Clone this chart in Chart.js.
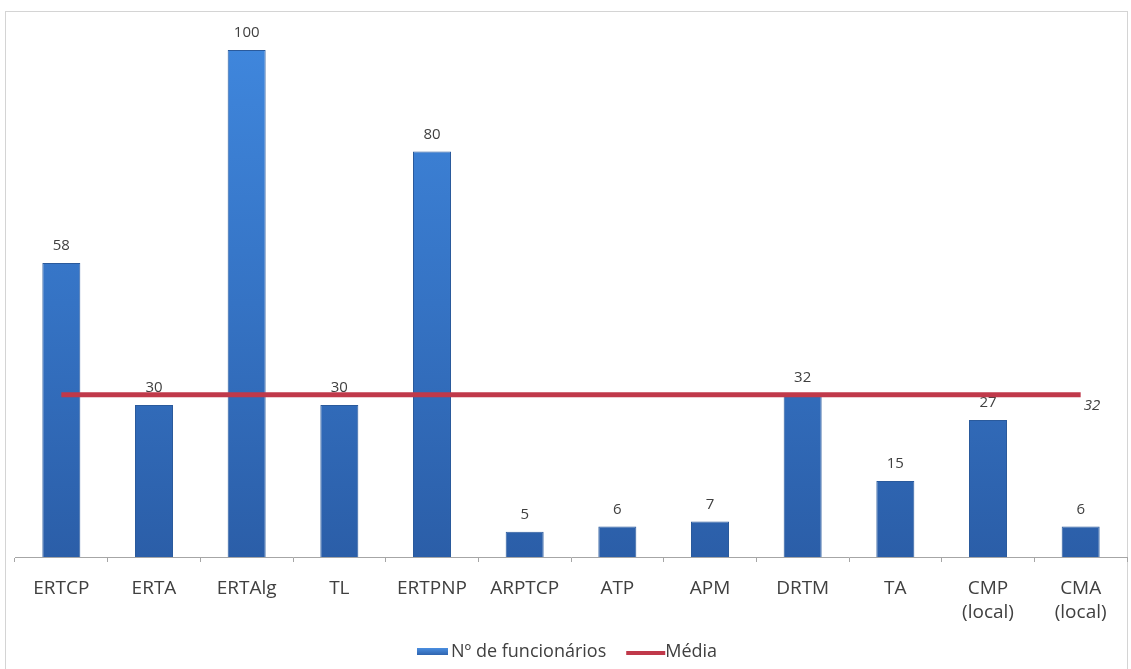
<!DOCTYPE html>
<html>
<head>
<meta charset="utf-8">
<script src="https://cdn.jsdelivr.net/npm/chart.js@4/dist/chart.umd.min.js"></script>
<style>
  html, body { margin: 0; padding: 0; background: #ffffff; }
  #wrap { position: relative; width: 1131px; height: 669px; }
</style>
</head>
<body>
<div id="wrap"><canvas id="c" width="1131" height="669"></canvas></div>
<script>
// Categories (services) and values
const categories = [
  'ERTCP', 'ERTA', 'ERTAlg', 'TL', 'ERTPNP', 'ARPTCP',
  'ATP', 'APM', 'DRTM', 'TA', ['CMP', '(local)'], ['CMA', '(local)']
];
const funcionarios = [58, 30, 100, 30, 80, 5, 6, 7, 32, 15, 27, 6];
const mediaValor = 32;
const media = categories.map(() => mediaValor);

const seriesNames = ['Nº de funcionários', 'Média'];

const FONT = '"Open Sans", "DejaVu Sans", sans-serif';
const TEXT = '#404040';
const BAR_EDGE = '#2a5a9c';
const LINE_RED = '#c0394a';

// Bar fill: cylinder-like gradient, light at the top, darker at the base
function barFill(ctx) {
  const chart = ctx.chart;
  const area = chart.chartArea;
  if (!area) return '#3a78c8';
  const g = chart.ctx.createLinearGradient(0, area.top, 0, area.bottom);
  g.addColorStop(0, '#3f86dc');
  g.addColorStop(0.5, '#3573c4');
  g.addColorStop(1, '#2b5ea8');
  return g;
}

// Frame around the whole chart
const framePlugin = {
  id: 'frame',
  beforeDraw(chart) {
    const c = chart.ctx;
    c.save();
    c.fillStyle = '#ffffff';
    c.fillRect(0, 0, chart.width, chart.height);
    c.strokeStyle = '#d4d4d4';
    c.lineWidth = 1;
    c.strokeRect(5.5, 11.5, 1122, 670);
    c.restore();
  }
};

// Value labels above each bar and the average label at the end of the line
const labelsPlugin = {
  id: 'valueLabels',
  afterDatasetDraw(chart, args) {
    const c = chart.ctx;
    if (args.index === 0) {
      const meta = chart.getDatasetMeta(0);
      c.save();
      c.font = '15px ' + FONT;
      c.fillStyle = TEXT;
      c.textAlign = 'center';
      c.textBaseline = 'middle';
      meta.data.forEach((bar, i) => {
        c.fillText(String(funcionarios[i]), bar.x, bar.y - 17);
      });
      c.restore();
    }
    if (args.index === 1) {
      const meta = chart.getDatasetMeta(1);
      const last = meta.data[meta.data.length - 1];
      c.save();
      c.font = 'italic 15px ' + FONT;
      c.fillStyle = TEXT;
      c.textAlign = 'left';
      c.textBaseline = 'middle';
      c.fillText(String(media[media.length - 1]), last.x + 3, last.y + 11);
      c.restore();
    }
  }
};

// Legend drawn at the bottom
const legendPlugin = {
  id: 'bottomLegend',
  afterDraw(chart) {
    const c = chart.ctx;
    c.save();
    c.font = '18px ' + FONT;
    c.textBaseline = 'middle';
    const y = 652;
    const w0 = c.measureText(seriesNames[0]).width;
    let x = 417;
    // bar swatch
    const g = c.createLinearGradient(0, y - 4, 0, y + 4);
    g.addColorStop(0, '#4a8ee0');
    g.addColorStop(1, '#2b5ea8');
    c.fillStyle = g;
    c.fillRect(x, y - 4, 31, 7);
    x += 34;
    c.fillStyle = TEXT;
    c.fillText(seriesNames[0], x, y);
    x += w0 + 20;
    // line swatch
    c.strokeStyle = LINE_RED;
    c.lineWidth = 4;
    c.beginPath();
    c.moveTo(x, y + 1);
    c.lineTo(x + 39, y + 1);
    c.stroke();
    x += 39;
    c.fillStyle = TEXT;
    c.fillText(seriesNames[1], x, y);
    c.restore();
  }
};

new Chart(document.getElementById('c'), {
  data: {
    labels: categories,
    datasets: [
      {
        type: 'bar',
        label: seriesNames[0],
        data: funcionarios,
        backgroundColor: barFill,
        borderColor: BAR_EDGE,
        borderWidth: 1,
        barPercentage: 0.41,
        categoryPercentage: 1,
        order: 2
      },
      {
        type: 'line',
        label: seriesNames[1],
        data: media,
        borderColor: LINE_RED,
        borderWidth: 5,
        pointRadius: 0,
        fill: false,
        order: 1
      }
    ]
  },
  options: {
    responsive: false,
    animation: false,
    layout: { padding: { left: 15, right: 4, top: 50, bottom: 0 } },
    plugins: {
      legend: { display: false },
      tooltip: { enabled: false },
      title: { display: false }
    },
    scales: {
      x: {
        offset: true,
        grid: {
          offset: true,
          drawOnChartArea: false,
          drawTicks: true,
          tickLength: 5,
          color: '#a6a6a6'
        },
        border: { display: true, color: '#a6a6a6', width: 1 },
        ticks: {
          font: { family: FONT, size: 19, lineHeight: 1.25 },
          color: TEXT,
          padding: 15,
          maxRotation: 0,
          autoSkip: false
        },
        afterFit(scale) { scale.height = 112; }
      },
      y: {
        display: false,
        min: 0,
        max: 100
      }
    }
  },
  plugins: [framePlugin, labelsPlugin, legendPlugin]
});
</script>
</body>
</html>
